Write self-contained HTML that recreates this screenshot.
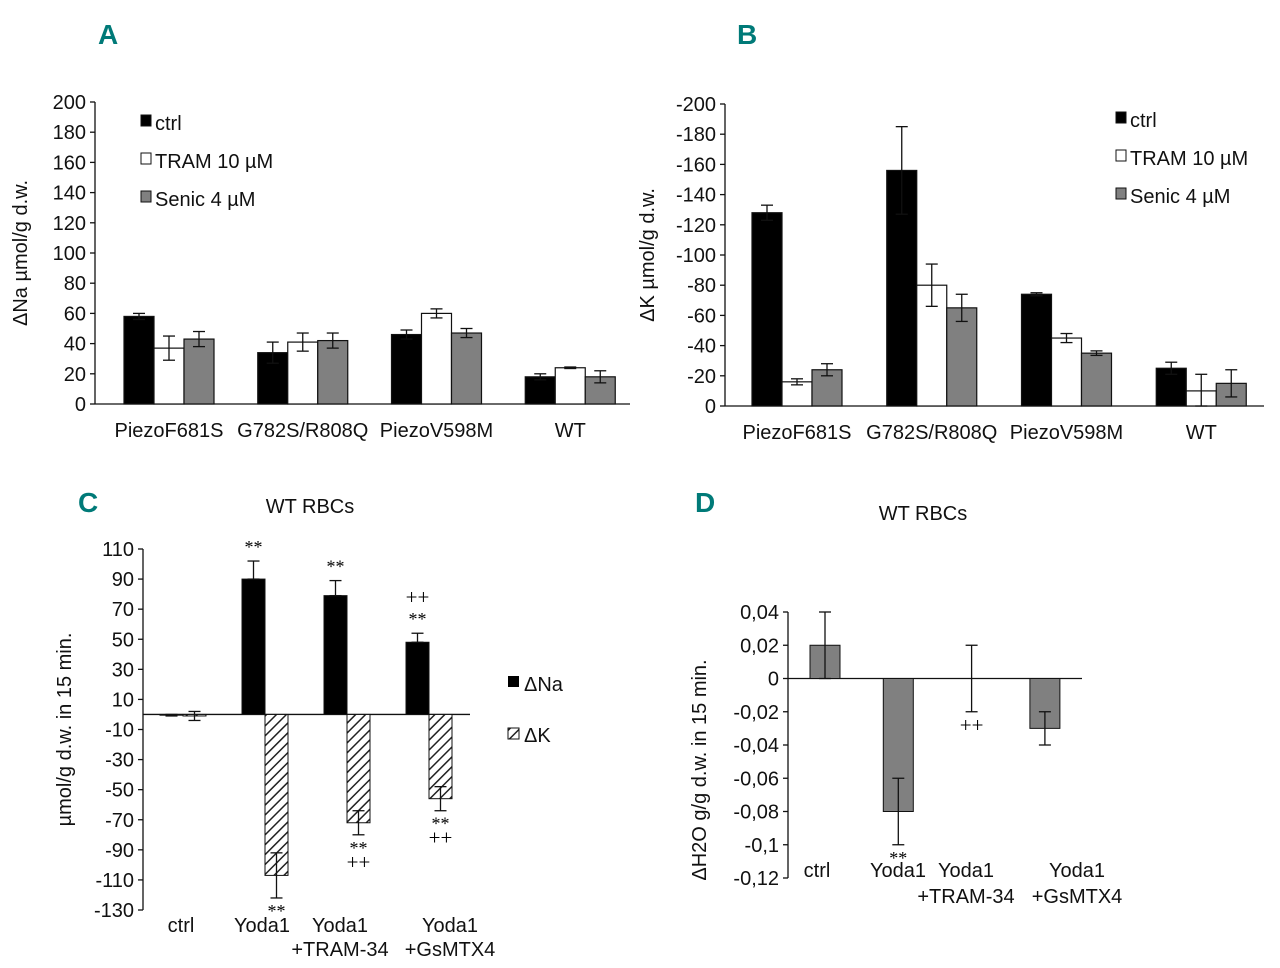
<!DOCTYPE html>
<html><head><meta charset="utf-8"><style>
html,body{margin:0;padding:0;background:#fff;}
svg{display:block;font-family:"Liberation Sans",sans-serif;}
.tick{font-size:20px;fill:#111;}
.lbl{font-size:20px;fill:#111;}
.panel{font-family:"Liberation Sans Narrow","Liberation Sans",sans-serif;font-weight:bold;font-size:28px;fill:#007a78;}
</style></head><body>
<svg id="fig" width="1280" height="968" viewBox="0 0 1280 968">
<defs><pattern id="hatch" patternUnits="userSpaceOnUse" width="7" height="7" patternTransform="rotate(45)"><rect width="7" height="7" fill="#fff"/><line x1="0" y1="0" x2="0" y2="7" stroke="#222" stroke-width="3"/></pattern></defs>
<text class="panel" x="98" y="44">A</text>
<text class="panel" x="737" y="44">B</text>
<text class="panel" x="78" y="512">C</text>
<text class="panel" x="695" y="512">D</text>
<g id="A"></g>
<g id="B"></g>
<g id="C"></g>
<g id="D"></g>
</svg>
<script>
const abCategories=["PiezoF681S","G782S/R808Q","PiezoV598M","WT"];
const abSeries=["ctrl","TRAM 10 µM","Senic 4 µM"];
const aCtrl=[58,34,46,18], aTram=[37,41,60,24], aSenic=[43,42,47,18];
const aCtrlErr=[2,7,3,2], aTramErr=[8,6,3,0.5], aSenicErr=[5,5,3,4];
const aTicks=[0,20,40,60,80,100,120,140,160,180,200];
const bCtrl=[128,156,74,25], bTram=[16,80,45,10], bSenic=[24,65,35,15];
const bCtrlErr=[5,29,1,4], bTramErr=[2,14,3,11], bSenicErr=[4,9,1.5,9];
const bTicks=[0,20,40,60,80,100,120,140,160,180,200];
const cCategories=["ctrl","Yoda1","Yoda1|+TRAM-34","Yoda1|+GsMTX4"];
const cNa=[-0.5,90,79,48], cNaErr=[0.5,12,10,6];
const cK=[-1,-107,-72,-56], cKErr=[3,15,8,8];
const cTicks=[110,90,70,50,30,10,-10,-30,-50,-70,-90,-110,-130];
const dCategories=["ctrl","Yoda1","Yoda1|+TRAM-34","Yoda1|+GsMTX4"];
const dH2O=[0.02,-0.08,0,-0.03], dErr=[0.02,0.02,0.02,0.01];
const dTicks=[0.04,0.02,0,-0.02,-0.04,-0.06,-0.08,-0.1,-0.12];

const NS="http://www.w3.org/2000/svg";
function mk(p,t,a,txt){const e=document.createElementNS(NS,t);for(const k in a)e.setAttribute(k,a[k]);if(txt!==undefined)e.textContent=txt;p.appendChild(e);return e;}
function line(p,x1,y1,x2,y2,w){return mk(p,'line',{x1,y1,x2,y2,stroke:'#111','stroke-width':w||1.3});}
function errbar(p,cx,y1,y2){line(p,cx,y1,cx,y2);line(p,cx-6,y1,cx+6,y1);line(p,cx-6,y2,cx+6,y2);}

function groupChart(g,opt){
  const y=v=>opt.y0-(v-opt.vmin)/(opt.vmax-opt.vmin)*(opt.y0-opt.ytop);
  line(g,opt.x0,opt.ytop,opt.x0,opt.y0);
  line(g,opt.x0,opt.y0,opt.x1,opt.y0);
  opt.ticks.forEach(t=>{line(g,opt.x0-5,y(t),opt.x0,y(t));
    const e=mk(g,'text',{class:'tick',x:opt.x0-9,y:y(t)+7,'text-anchor':'end'},opt.neg&&t!==0?'-'+t:String(t));
    
    });
  const fills=['#000','#fff','#808080'];
  const cw=(opt.x1-opt.x0)/abCategories.length;
  abCategories.forEach((c,i)=>{
    const lx=opt.x0+cw*i+opt.gx+45;
    const e=mk(g,'text',{class:'lbl',x:lx,y:opt.y0+33,'text-anchor':'middle'},c);
    
    
    opt.vals.forEach((arr,s)=>{
      const bx=opt.x0+cw*i+opt.gx+s*30;
      const r=mk(g,'rect',{x:bx,y:y(arr[i]),width:30,height:opt.y0-y(arr[i]),fill:fills[s],stroke:'#111','stroke-width':1.2});
      
      
      errbar(g,bx+15,y(arr[i]+opt.errs[s][i]),y(Math.max(0,arr[i]-opt.errs[s][i])));
    });
  });
  const yt=mk(g,'text',{class:'lbl','font-size':21,transform:`translate(${opt.ylx},${(opt.ytop+opt.y0)/2}) rotate(-90)`,'text-anchor':'middle'},opt.ylabel);
  
  
  abSeries.forEach((s,k)=>{
    const ly=opt.ly+k*38;
    mk(g,'rect',{x:opt.lx,y:ly-13,width:10,height:11,fill:fills[k],stroke:'#111','stroke-width':1});
    const e=mk(g,'text',{class:'lbl',x:opt.lx+14,y:ly+2,'font-size':21},s);
    
    
  });
}
groupChart(document.getElementById('A'),{x0:95,x1:630,ytop:102,y0:404,vmin:0,vmax:200,ticks:aTicks,gx:29,
  vals:[aCtrl,aTram,aSenic],errs:[aCtrlErr,aTramErr,aSenicErr],ylabel:'ΔNa µmol/g d.w.',ylx:27,lx:141,ly:128,neg:false});
groupChart(document.getElementById('B'),{x0:725,x1:1264,ytop:104,y0:406,vmin:0,vmax:200,ticks:bTicks,gx:27,
  vals:[bCtrl,bTram,bSenic],errs:[bCtrlErr,bTramErr,bSenicErr],ylabel:'ΔK µmol/g d.w.',ylx:654,lx:1116,ly:125,neg:true});

(function(){
  const g=document.getElementById('C');
  const x0=143,x1=470,ytop=549,ybot=910,vmax=110,vmin=-130;
  const y=v=>ytop+(vmax-v)/(vmax-vmin)*(ybot-ytop);
  line(g,x0,ytop,x0,ybot);
  cTicks.forEach(t=>{line(g,x0-5,y(t),x0,y(t));
    const e=mk(g,'text',{class:'tick',x:x0-9,y:y(t)+7,'text-anchor':'end'},String(t));
    
    });
  line(g,x0,y(0),x1,y(0));
  const t=mk(g,'text',{class:'lbl','font-size':24,x:310,y:513,'text-anchor':'middle'},'WT RBCs');
  
  
  const yt=mk(g,'text',{class:'lbl','font-size':21,transform:`translate(71,${(ytop+ybot)/2}) rotate(-90)`,'text-anchor':'middle'},'µmol/g d.w. in 15 min.');
  
  
  const annNa=['','**','**','++|**'], annK=['','**','**|++','**|++'];
  const lblX=[181,262,340,450];
  cCategories.forEach((c,i)=>{
    const bx=160+82*i;
    const r1=mk(g,'rect',{x:bx,y:Math.min(y(cNa[i]),y(0)),width:23,height:Math.abs(y(cNa[i])-y(0)),fill:'#000',stroke:'#111'});
    
    
    const r2=mk(g,'rect',{x:bx+23,y:Math.min(y(cK[i]),y(0)),width:23,height:Math.abs(y(cK[i])-y(0)),fill:'url(#hatch)',stroke:'#111'});
    
    
    if(cNa[i]>0) errbar(g,bx+11.5,y(cNa[i]+cNaErr[i]),y(cNa[i])); else errbar(g,bx+11.5,y(cNa[i]+cNaErr[i]),y(cNa[i]-cNaErr[i]));
    errbar(g,bx+34.5,y(cK[i]+cKErr[i]),y(cK[i]-cKErr[i]));
    if(annNa[i]){annNa[i].split('|').reverse().forEach((s,k)=>mk(g,'text',{x:bx+11.5,y:y(cNa[i]+cNaErr[i])-8-k*21,'text-anchor':'middle','font-size':s=='**'?18:21,'font-family':'Liberation Serif'},s));}
    if(annK[i]){annK[i].split('|').forEach((s,k)=>mk(g,'text',{x:bx+34.5,y:y(cK[i]-cKErr[i])+(s=='**'?19:20)+k*14,'text-anchor':'middle','font-size':s=='**'?18:21,'font-family':'Liberation Serif'},s));}
    c.split('|').forEach((s,k)=>{const e=mk(g,'text',{class:'lbl',x:lblX[i],y:932+k*24,'text-anchor':'middle'},s);
      
      });
  });
  mk(g,'rect',{x:508,y:676,width:11,height:11,fill:'#000'});
  const l1=mk(g,'text',{class:'lbl',x:524,y:691,'font-size':21},'ΔNa');
  
  
  mk(g,'rect',{x:508,y:728,width:11,height:11,fill:'url(#hatch)',stroke:'#111'});
  const l2=mk(g,'text',{class:'lbl',x:524,y:742,'font-size':21},'ΔK');
  
  
})();

(function(){
  const g=document.getElementById('D');
  const x0=788,x1=1082,ytop=612,ybot=878,vmax=0.04,vmin=-0.12;
  const y=v=>ytop+(vmax-v)/(vmax-vmin)*(ybot-ytop);
  line(g,x0,ytop,x0,ybot);
  dTicks.forEach(t=>{line(g,x0-5,y(t),x0,y(t));
    const e=mk(g,'text',{class:'tick',x:x0-9,y:y(t)+7,'text-anchor':'end'},String(t).replace('.',','));
    
    });
  line(g,x0,y(0),x1,y(0));
  const t=mk(g,'text',{class:'lbl','font-size':24,x:923,y:520,'text-anchor':'middle'},'WT RBCs');
  
  
  const yt=mk(g,'text',{class:'lbl','font-size':21,transform:`translate(706,${(ytop+ybot)/2+25}) rotate(-90)`,'text-anchor':'middle'},'ΔH2O g/g d.w. in 15 min.');
  
  
  const lblX=[817,898,966,1077];
  dCategories.forEach((c,i)=>{
    const bx=810+73.3*i;
    if(dH2O[i]!==0){const r=mk(g,'rect',{x:bx,y:Math.min(y(dH2O[i]),y(0)),width:30,height:Math.abs(y(dH2O[i])-y(0)),fill:'#808080',stroke:'#111'});
      
      }
    errbar(g,bx+15,y(dH2O[i]+dErr[i]),y(dH2O[i]-dErr[i]));
    c.split('|').forEach((s,k)=>{const e=mk(g,'text',{class:'lbl',x:lblX[i],y:877+k*26,'text-anchor':'middle'},s);
      
      });
  });
  mk(g,'text',{x:810+73.3+15,y:y(dH2O[1]-dErr[1])+19,'text-anchor':'middle','font-size':18,'font-family':'Liberation Serif'},'**');
  mk(g,'text',{x:810+73.3*2+15,y:y(dH2O[2]-dErr[2])+20,'text-anchor':'middle','font-size':21,'font-family':'Liberation Serif'},'++');
})();
</script>
</body></html>
